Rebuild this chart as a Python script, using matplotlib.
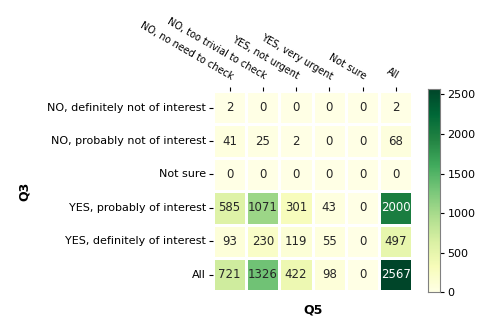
import matplotlib
matplotlib.use("Agg")
import matplotlib.pyplot as plt
import pandas as pd
import seaborn as sns

q5_labels = ["NO, no need to check", "NO, too trivial to check", "YES, not urgent",
             "YES, very urgent", "Not sure", "All"]
q3_labels = ["NO, definitely not of interest", "NO, probably not of interest", "Not sure",
             "YES, probably of interest", "YES, definitely of interest", "All"]

counts = [
    [2, 0, 0, 0, 0, 2],
    [41, 25, 2, 0, 0, 68],
    [0, 0, 0, 0, 0, 0],
    [585, 1071, 301, 43, 0, 2000],
    [93, 230, 119, 55, 0, 497],
    [721, 1326, 422, 98, 0, 2567],
]

df = pd.DataFrame(counts, index=q3_labels, columns=q5_labels)

fig = plt.figure(figsize=(4.84, 3.16), dpi=100)
ax = fig.add_axes([0.44, 0.078, 0.412, 0.634])
cax = fig.add_axes([0.885, 0.075, 0.025, 0.643])

sns.heatmap(df, ax=ax, cbar_ax=cax, cmap="YlGn", annot=True, fmt="d",
            linewidths=2, linecolor="white", annot_kws={"fontsize": 8.5})

ax.xaxis.tick_top()
ax.set_xticklabels(q5_labels, rotation=-30, ha="right", rotation_mode="anchor", fontsize=7)
ax.set_yticklabels(q3_labels, rotation=0, fontsize=8)
ax.tick_params(length=3, pad=2)
ax.tick_params(axis="x", pad=4)
ax.set_xlabel("Q5", fontweight="bold", fontsize=9, labelpad=9)
ax.set_ylabel("Q3", fontweight="bold", fontsize=9, labelpad=12)

cax.tick_params(labelsize=8, length=3, pad=2)
for sp in cax.spines.values():
    sp.set_visible(True)
    sp.set_edgecolor("gray")

fig.savefig("out.png", dpi=100)
